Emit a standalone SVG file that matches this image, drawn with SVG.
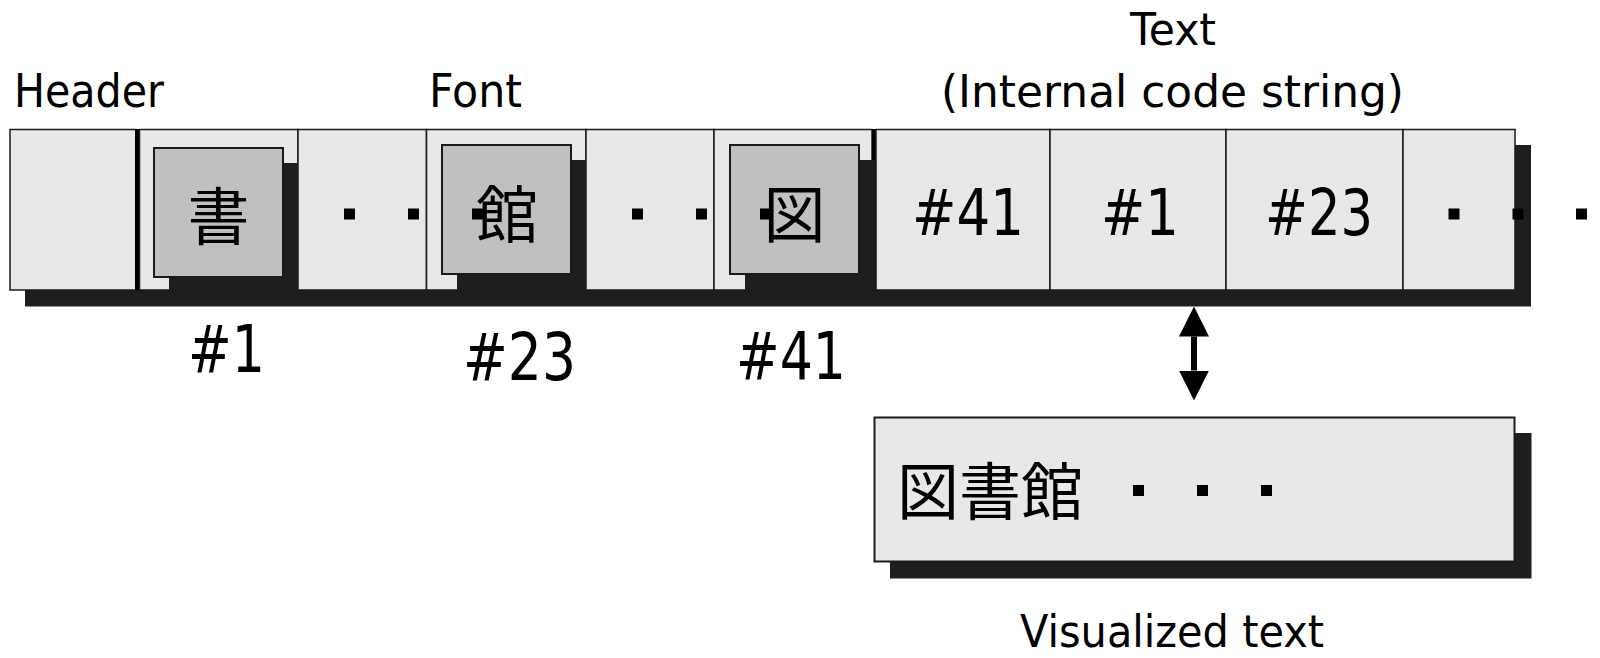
<svg xmlns="http://www.w3.org/2000/svg" width="1600" height="658" viewBox="0 0 1600 658">
<style>
.lbl{font-family:"DejaVu Sans","Liberation Sans",sans-serif;fill:#000}
.cjk{font-family:"Noto Sans CJK JP","Noto Sans CJK SC",sans-serif;fill:#000}
.cell{fill:#e8e8e8;stroke:#1a1a1a;stroke-width:1.5}
.box{fill:#c0c0c0;stroke:#1a1a1a;stroke-width:2}
.shadow{fill:#1e1e1e}
.dot{fill:#000}
</style>
<defs>
<marker id="head" viewBox="0 0 30 30" refX="0" refY="15" markerWidth="30" markerHeight="30" markerUnits="userSpaceOnUse" orient="auto-start-reverse">
<path d="M0,0 L30,15 L0,30 z" fill="#000"/>
</marker>
</defs>
<rect fill="#fff" x="0" y="0" width="1600" height="658"/>

<!-- labels -->
<text class="lbl" x="14" y="106.5" font-size="46" textLength="150" lengthAdjust="spacingAndGlyphs">Header</text>
<text class="lbl" x="429" y="106.5" font-size="46" textLength="93" lengthAdjust="spacingAndGlyphs">Font</text>
<text class="lbl" x="1130" y="45" font-size="45" textLength="86" lengthAdjust="spacingAndGlyphs">Text</text>
<text class="lbl" x="941" y="106.5" font-size="45" textLength="463" lengthAdjust="spacingAndGlyphs">(Internal code string)</text>

<!-- main bar shadow -->
<rect class="shadow" x="25" y="145" width="1506" height="161.5"/>

<g id="header">
<rect class="cell" x="10" y="129.5" width="126" height="160.5"/>
<rect fill="#000" x="135" y="129" width="4" height="161.5"/>
</g>

<g id="font">
<rect class="cell" x="139.5" y="129.5" width="158.5" height="160.5"/>
<rect class="cell" x="298" y="129.5" width="128.5" height="160.5"/>
<rect class="cell" x="426.5" y="129.5" width="159.5" height="160.5"/>
<rect class="cell" x="586" y="129.5" width="128" height="160.5"/>
<rect class="cell" x="714" y="129.5" width="158" height="160.5"/>
<rect fill="#000" x="872" y="129" width="4" height="161.5"/>
<rect class="shadow" x="169" y="163" width="129" height="127"/>
<rect class="shadow" x="457" y="160" width="129" height="130"/>
<rect class="shadow" x="745" y="160" width="130" height="130"/>
</g>

<g id="glyph-sho">
<rect class="box" x="154" y="148" width="129" height="129"/>
<text class="cjk" x="218.5" y="240" font-size="62" text-anchor="middle">書</text>
</g>
<g id="glyph-kan">
<rect class="box" x="442" y="145" width="129" height="129"/>
<text class="cjk" x="507" y="238" font-size="62" text-anchor="middle">館</text>
</g>
<g id="glyph-zu">
<rect class="box" x="730" y="145" width="129" height="129"/>
<text class="cjk" x="794.5" y="238" font-size="62" text-anchor="middle">図</text>
</g>

<g id="font-dots">
<rect class="dot" x="344" y="208.5" width="11" height="11"/>
<rect class="dot" x="408" y="208.5" width="11" height="11"/>
<rect class="dot" x="472" y="208.5" width="11" height="11"/>
<rect class="dot" x="632" y="208.5" width="11" height="11"/>
<rect class="dot" x="696" y="208.5" width="11" height="11"/>
<rect class="dot" x="760" y="208.5" width="11" height="11"/>
</g>

<g id="text">
<rect class="cell" x="876" y="129.5" width="174" height="160.5"/>
<rect class="cell" x="1050" y="129.5" width="176" height="160.5"/>
<rect class="cell" x="1226" y="129.5" width="177" height="160.5"/>
<rect class="cell" x="1403" y="129.5" width="112" height="160.5"/>
<text class="lbl" x="912" y="235" font-size="64" textLength="112" lengthAdjust="spacingAndGlyphs">#41</text>
<text class="lbl" x="1101" y="235" font-size="64" textLength="78" lengthAdjust="spacingAndGlyphs">#1</text>
<text class="lbl" x="1265" y="235" font-size="64" textLength="108" lengthAdjust="spacingAndGlyphs">#23</text>
<rect class="dot" x="1448.5" y="208.5" width="11" height="11"/>
<rect class="dot" x="1512.5" y="208.5" width="11" height="11"/>
<rect class="dot" x="1576" y="208.5" width="11" height="11"/>
</g>

<g id="code-labels">
<text class="lbl" x="188" y="371.5" font-size="66" textLength="77" lengthAdjust="spacingAndGlyphs">#1</text>
<text class="lbl" x="463" y="380" font-size="66" textLength="113" lengthAdjust="spacingAndGlyphs">#23</text>
<text class="lbl" x="736" y="379" font-size="66" textLength="110" lengthAdjust="spacingAndGlyphs">#41</text>
</g>

<g id="connectors">
<line x1="1194" y1="336.5" x2="1194" y2="370.5" stroke="#000" stroke-width="6" marker-start="url(#head)" marker-end="url(#head)"/>
</g>

<g id="visualized">
<rect class="shadow" x="890" y="433" width="641.5" height="145.5"/>
<rect x="874.5" y="417.5" width="640" height="144" fill="#e8e8e8" stroke="#1a1a1a" stroke-width="2"/>
<text class="cjk" x="897" y="515" font-size="62">図書館</text>
<rect class="dot" x="1133" y="485" width="11" height="11"/>
<rect class="dot" x="1197" y="485" width="11" height="11"/>
<rect class="dot" x="1261" y="485" width="11" height="11"/>
<text class="lbl" x="1020" y="646.5" font-size="44" textLength="304" lengthAdjust="spacingAndGlyphs">Visualized text</text>
</g>
</svg>
